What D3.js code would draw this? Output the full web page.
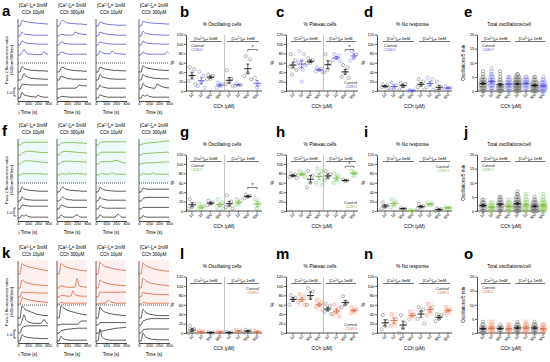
<!DOCTYPE html>
<html><head><meta charset="utf-8">
<script src="https://cdn.jsdelivr.net/npm/d3@7"></script>
<style>
body{margin:0;background:#fff}
svg{font-family:"Liberation Sans",Arial,sans-serif}
</style></head><body>
<svg id="fig" width="550" height="362"></svg>
<script>
// ---- data ----
const traceTime = [0,20,40,60,80,100,120,140,160,180,200,220,240,260,280,300];
const caLevels = ["0mM","0mM","1mM","1mM"];
const cchLevels = ["10μM","300μM","10μM","300μM"];
const cchGroups = ["10","10","300","300","10","10","300","300"];

// each column: 4 knockout traces then 4 control traces (ratio above baseline)
const tracesA = [
 [[0,0,.7,.6,.55,.5,.45,.42,.4,.37,.35,.32,.3,.28,.26,.25],[0,0,.5,.3,.2,.2,.15,.15,.1,.1,.1,.1,.1,.1,.1,.1],[0,0,.5,.35,.25,.2,.2,.15,.15,.15,.1,.1,.1,.1,.1,.1],[0,0,.3,.7,.3,.15,.1,.1,.05,.05,.05,.05,.1,.4,.15,.1],
  [0,0,.7,.45,.35,.3,.25,.2,.2,.2,.15,.15,.15,.15,.1,.1],[0,0,.2,.8,.5,.35,.25,.2,.2,.15,.15,.15,.1,.1,.1,.1],[0,0,.6,.6,.55,.55,.5,.5,.5,.5,.5,.5,.5,.5,.5,.5],[0,0,.7,.4,.3,.25,.2,.15,.15,.1,.35,.2,.15,.1,.1,.1]],
 [[0,0,.5,.7,.5,.4,.35,.3,.3,.3,.25,.25,.25,.2,.2,.2],[0,0,.2,.2,.15,.1,.1,.1,.1,.5,.4,.3,.25,.2,.2,.2],[0,0,.4,.3,.2,.15,.15,.1,.1,.1,.1,.1,.1,.1,.1,.1],[0,0,.4,.3,.2,.15,.1,.1,.1,.1,.1,.1,.1,.1,.1,.1],
  [0,0,.5,.6,.45,.35,.3,.25,.2,.2,.15,.15,.15,.1,.1,.1],[0,0,.5,.4,.3,.2,.15,.15,.1,.1,.1,.1,.1,.1,.1,.1],[0,0,.1,.1,.1,.1,.1,.1,.1,.1,.2,.5,.45,.4,.4,.4],[0,0,.2,.2,.15,.15,.1,.1,.1,.1,.1,.1,.1,.1,.1,.1]],
 [[0,0,.5,.4,.3,.25,.2,.2,.15,.15,.1,.1,.1,.1,.1,.1],[0,0,.5,.4,.3,.25,.2,.2,.15,.15,.1,.1,.1,.1,.1,.1],[0,0,.4,.3,.25,.2,.15,.15,.1,.1,.1,.1,.1,.1,.1,.1],[0,0,.5,.3,.2,.15,.15,.15,.5,.3,.2,.15,.15,.1,.1,.1],
  [0,0,.6,.5,.4,.35,.3,.25,.25,.2,.2,.2,.15,.15,.15,.15],[0,0,.7,.4,.3,.25,.2,.15,.15,.1,.1,.1,.1,.1,.1,.1],[0,0,.5,.3,.2,.15,.1,.1,.1,.1,.1,.1,.1,.1,.1,.1],[0,0,.4,.3,.2,.15,.1,.1,.1,.1,.1,.1,.1,.1,.1,.1]],
 [[0,0,.6,.5,.45,.4,.4,.35,.35,.3,.3,.3,.3,.25,.25,.25],[0,0,.6,.4,.3,.25,.2,.2,.15,.15,.15,.15,.1,.1,.1,.1],[0,0,.5,.35,.25,.2,.2,.15,.15,.15,.15,.1,.1,.1,.1,.1],[0,0,.4,.2,.15,.1,.1,.1,.1,.1,.1,.1,.1,.1,.4,.2],
  [0,0,.8,.6,.5,.45,.4,.35,.3,.3,.25,.25,.2,.2,.2,.2],[0,0,.7,.5,.4,.35,.3,.25,.2,.2,.2,.15,.15,.15,.15,.15],[0,0,.7,.4,.3,.2,.15,.1,.1,.6,.5,.35,.25,.2,.15,.15],[0,0,.4,.2,.4,.2,.15,.1,.1,.1,.1,.1,.1,.1,.1,.1]]
];
const tracesF = [
 [[0,0,.2,.3,.35,.35,.35,.35,.35,.35,.35,.35,.35,.35,.35,.35],[0,0,.2,.35,.45,.5,.45,.45,.4,.4,.35,.35,.3,.3,.3,.3],[0,0,.2,.35,.4,.4,.4,.35,.35,.3,.3,.25,.25,.2,.2,.2],[0,0,.1,.25,.1,.2,.1,.25,.1,.2,.1,.2,.1,.1,.1,.1],
  [0,0,.6,.4,.3,.25,.2,.2,.15,.15,.1,.1,.1,.1,.1,.1],[0,0,.5,.3,.2,.15,.15,.1,.1,.1,.1,.1,.1,.1,.1,.1],[0,0,.5,.45,.4,.4,.35,.35,.35,.35,.35,.35,.35,.35,.35,.35],[0,0,.4,.2,.4,.2,.15,.1,.1,.1,.1,.1,.1,.1,.1,.1]],
 [[0,0,.2,.3,.3,.3,.3,.3,.3,.3,.3,.25,.25,.25,.2,.2],[0,0,.3,.4,.45,.45,.45,.4,.4,.35,.35,.3,.3,.3,.25,.25],[0,0,.2,.3,.35,.35,.35,.35,.3,.3,.3,.3,.3,.25,.25,.25],[0,0,.1,.2,.1,.1,.25,.1,.2,.1,.25,.1,.2,.1,.1,.1],
  [0,0,.4,.6,.4,.3,.25,.2,.2,.15,.15,.15,.1,.1,.1,.1],[0,0,.3,.5,.3,.2,.15,.15,.1,.1,.1,.1,.1,.1,.1,.1],[0,0,.5,.4,.3,.25,.2,.2,.2,.2,.2,.2,.2,.2,.2,.2],[0,0,.4,.2,.1,.1,.1,.1,.1,.3,.4,.2,.1,.1,.1,.1]],
 [[0,0,.3,.35,.4,.4,.4,.4,.4,.4,.4,.4,.4,.4,.4,.4],[0,0,.3,.35,.35,.35,.35,.35,.35,.35,.35,.35,.35,.35,.35,.35],[0,0,.2,.3,.3,.3,.3,.3,.3,.4,.45,.4,.3,.2,.15,.1],[0,0,.1,.25,.1,.1,.1,.1,.3,.15,.1,.1,.1,.1,.1,.1],
  [0,0,.6,.4,.3,.2,.2,.15,.15,.1,.1,.1,.1,.1,.1,.1],[0,0,.5,.3,.2,.15,.1,.1,.1,.1,.1,.1,.1,.1,.1,.1],[0,0,.4,.2,.15,.1,.1,.1,.1,.1,.1,.1,.1,.1,.1,.1],[0,0,.4,.2,.1,.1,.1,.1,.1,.1,.2,.5,.3,.1,.1,.1]],
 [[0,0,.15,.2,.25,.25,.3,.3,.35,.35,.4,.4,.45,.5,.5,.5],[0,0,.15,.2,.2,.2,.25,.25,.25,.3,.3,.3,.3,.35,.35,.35],[0,0,.1,.1,.15,.15,.15,.15,.2,.2,.2,.2,.25,.25,.25,.25],[0,0,.3,.1,.1,.1,.1,.3,.1,.1,.1,.1,.1,.1,.1,.1],
  [0,0,.5,.4,.35,.35,.35,.35,.35,.35,.35,.35,.35,.35,.35,.35],[0,0,.3,.4,.45,.45,.45,.45,.45,.45,.45,.45,.45,.45,.45,.45],[0,0,.2,.2,.2,.2,.2,.2,.2,.2,.2,.2,.2,.2,.2,.2],[0,0,.3,.15,.1,.1,.1,.1,.1,.1,.1,.1,.1,.1,.1,.1]]
];
const tracesK = [
 [[0,0,1.3,1.1,1,.9,.85,.8,.75,.7,.65,.6,.55,.5,.45,.4],[0,0,1,.8,.7,.6,.55,.5,.45,.4,.4,.35,.35,.3,.3,.3],[0,0,.6,.6,.55,.55,.55,.55,.55,.5,.5,.5,.5,.5,.5,.5],[0,0,.8,.7,.6,.55,.5,.45,.4,.35,.3,.3,.25,.25,.2,.2],
  [0,0,1.5,1.2,1,.9,.8,.7,.6,.5,.45,.4,.35,.3,.3,.3],[0,0,.5,1.3,.6,.4,.3,.25,.2,.2,.2,.2,.3,.7,.3,.2],[0,0,.6,.8,.85,.9,.9,.9,.9,.9,.9,.9,.9,.9,.9,.9],[0,0,.8,.6,.5,.45,.4,.4,.35,.35,.35,.3,.3,.3,.3,.3]],
 [[0,0,1.3,1.1,.95,.85,.75,.7,.65,.6,.55,.5,.45,.45,.4,.4],[0,0,.3,.2,.15,.1,.1,.1,.1,.1,1.2,.3,.2,.15,.1,.1],[0,0,.2,.2,.15,.1,.1,.1,.8,.3,.2,.15,.1,.1,.1,.1],[0,0,.2,.15,.1,.1,.1,.1,.1,.1,.1,.1,.1,.1,.1,.1],
  [0,0,1.5,1.3,1.15,1,.9,.8,.75,.7,.6,.55,.5,.45,.4,.4],[0,0,.1,.1,.1,.1,.1,.1,.1,.1,.1,.2,.5,.5,.5,.5],[0,0,.3,.35,.4,.45,.5,.5,.55,.55,.6,.6,.6,.6,.6,.6],[0,0,.6,.3,.2,.15,.1,.1,.1,.1,.1,.1,.1,.1,.1,.1]],
 [[0,0,1.5,1.2,1,.9,.85,.8,.7,.65,.6,.55,.5,.5,.45,.45],[0,0,1,.8,.7,.6,.55,.5,.45,.4,.4,.35,.35,.3,.3,.3],[0,0,.6,.6,.6,.6,.6,.6,.6,.6,.6,.6,.6,.6,.6,.6],[0,0,.1,.1,.1,.1,.5,.3,.2,.15,.1,.1,.1,.1,.1,.1],
  [0,0,1.4,1,.8,.7,.6,.55,.5,.45,.4,.4,.35,.35,.3,.3],[0,0,.3,.3,.3,.3,.3,.3,.3,.3,.3,.3,.3,.3,.3,.3],[0,0,.2,.25,.3,.35,.4,.45,.5,.55,.6,.6,.65,.65,.7,.7],[0,0,1.5,.5,.3,.2,.15,.1,.1,.1,.1,.1,.1,.1,.1,.1]],
 [[0,0,1.4,1.1,.95,.85,.75,.7,.6,.55,.5,.45,.4,.4,.35,.35],[0,0,1.2,1,.8,.7,.6,.55,.5,.45,.4,.4,.35,.35,.3,.3],[0,0,.6,.5,.45,.4,.4,.35,.35,.3,.3,.3,.3,.3,.3,.3],[0,0,.2,.15,.1,.1,.1,.1,.1,.1,.1,.1,.1,.1,.1,.1],
  [0,0,1.1,.8,.6,.5,.45,.4,.35,.3,.3,.3,.3,.3,.3,.3],[0,0,.5,.6,.7,.75,.8,.8,.8,.8,.8,.8,.8,.8,.8,.8],[0,0,.4,.45,.5,.5,.5,.5,.5,.5,.5,.5,.5,.5,.5,.5],[0,0,1,.6,.4,.3,.25,.2,.2,.15,.15,.15,.15,.15,.15,.15]]
];

// % of cells per experiment; group order: 10 Ctl, 10 KO, 300 Ctl, 300 KO (0mM) then same (1mM)
const oscB     = [[51,46,32,21,14],[41,32,18,11,7],[35,32,26,25],[18,14,11,7],[44,26,19,14,11],[16,13,12,11],[74,67,39,32,25],[28,14,7]];
const plateauC = [[78,65,55,52,45,35],[85,78,65,60,55,50,45,20],[70,65,60,58],[50,47,45,42,40],[78,60,45,40],[78,75,70,66,63],[55,50,40,30,28],[85,78,70,65]];
const noRespD  = [[14,12,10,8,6],[18,12,5,3],[17,15,10,3],[2,1,0,0],[25,20,15,8,3],[28,25,15,8,3],[20,8,3,0],[10,7,5,3]];
const oscG     = [[25,15,8,5],[15,10,5,3],[22,18,15,12],[25,18,12,8,5],[33,20,12,8,5],[25,22,15,12],[35,32,30,27],[25,15,5]];
const plateauH = [[80,78,75,72,70],[85,80,78,75,72],[85,75,60,50],[90,85,75,60,55],[85,78,70,65],[80,75,65,60],[67,65,63],[85,80,75]];
const noRespI  = [[18,12,8,5],[25,18,12,8],[6,5,4],[2,1,0],[15,10,7,5],[18,15,13,12],[6,4,2,0],[8,7,6,5]];
const oscL     = [[15,8,3,0],[5,3,1,0],[2,1,0],[4,2,0],[2,1,0],[6,4,2],[7,5,3,1],[5,2,0]];
const plateauM = [[80,75,70,60],[82,78,70,65,60],[95,88,75,60],[70,65,60,55,50],[62,58,50,45,40],[60,52,45,40,35],[78,65,60,55],[55,50,45,42]];
const noRespN  = [[38,25,15,8],[40,30,20,15],[38,20,10,0],[45,40,35,30],[55,50,45,30,20],[62,55,45,38],[40,38,30,25],[55,50,45,42]];

// oscillations per cell: number of cells with 0,1,2,... oscillations
const totalE = [[3,5,6,5,4,2,1,1],[2,3,4,5,4,3,2,1,1],[4,6,5,3,2,1,1,1],[2,4,5,5,3,2],[5,8,10,8,6,4,2],[1,3,5,5,4,2],[5,8,7,5,3,2],[4,7,6,4,2,1]];
const totalJ = [[2,4,5,3,2],[3,5,4,2],[2,4,5,4,3,2],[3,5,5,3,1],[4,7,8,6,4,3,2,1],[3,5,4,3,2,1,1],[5,8,6,4,2,1],[4,7,6,4,2,1,1]];
const totalO = [[3,5,4,2,1],[2,4,4,2,1],[1,3,4,1],[2,4,3,2],[2,4,5,3,1],[2,4,4,3,1],[2,4,4,3,1],[2,4,3,2]];

const pctTicks = [0,20,40,60,80,100,120];
const oscTicks = [0,5,10,15,20];

// ---- layout ----
const svg = d3.select("#fig");
const traceCols = [18, 57, 96, 139];
const traceW = 30;
const panelX = [
  {axis:186, g1:192, step:9.3, end:262, letter:180},
  {axis:286, g1:293, step:8.7, end:358, letter:276},
  {axis:377, g1:385, step:9.0, end:452, letter:364},
  {axis:477, g1:483, step:8.6, end:545, letter:464}
];
const titles = ["% Oscillating cells","% Plateau cells","% No response","Total oscillations/cell"];

const rows = [
  {top:0,   letters:["a","b","c","d","e"], traces:tracesA, color:"#5757d6", light:"#8a8ae8", shade:null,
   base:[26,36,45,55,72,80,89,98],
   panels:[{d:oscB,leg:"tl",sig:88},{d:plateauC,leg:"br",sig:88},{d:noRespD,leg:"tl"},{d:totalE,hist:true,leg:"tl"}]},
  {top:120, letters:["f","g","h","i","j"], traces:tracesF, color:"#7cba45", light:"#9fd06b", shade:"#eef9fa",
   base:[25,35,44,55,72,81,89,98],
   panels:[{d:oscG,leg:"tl",sig:50},{d:plateauH,leg:"br",sig:95},{d:noRespI,leg:"tr"},{d:totalJ,hist:true,leg:"tl"}]},
  {top:242, letters:["k","l","m","n","o"], traces:tracesK, color:"#d46a45", light:"#eb9a7c", shade:"#fdf0ef",
   base:[32,46,55,62,76,83,91,99],
   panels:[{d:oscL,leg:"tr"},{d:plateauM,leg:"br"},{d:noRespN,leg:"tr"},{d:totalO,hist:true,leg:"tl"}]}
];

function caLabel(t, level) {
  t.append("tspan").text("[Ca");
  t.append("tspan").attr("font-size","70%").attr("dy",-1.3).text("2+");
  t.append("tspan").attr("dy",1.3).text("]");
  t.append("tspan").attr("font-size","70%").attr("dy",0.9).text("o");
  t.append("tspan").attr("dy",-0.9).text("= " + level);
}

function drawTraces(g, row) {
  g.append("text").attr("x",2).attr("y",16).attr("font-size",15).attr("font-weight","bold").text(row.letters[0]);
  const yl = g.append("text").attr("transform","translate(8,60) rotate(-90)").attr("text-anchor","middle").attr("font-size",4.3);
  yl.append("tspan").attr("x",0).text("Fura-2 fluorescence ratio");
  yl.append("tspan").attr("x",0).attr("dy",4.8).text("(340nm/380nm)");
  // scale bar 1.0
  const amp = d3.scaleLinear([0,1],[0,8]);
  g.append("path").attr("d",`M16,${88}H14V${88+amp(1)}H16`).attr("fill","none").attr("stroke","#222").attr("stroke-width",0.7);
  g.append("text").attr("x",12.5).attr("y",93.5).attr("text-anchor","end").attr("font-size",4.3).text("1.0");

  row.traces.forEach((col, ci) => {
    const x0 = traceCols[ci];
    const x = d3.scaleLinear([0,300],[x0, x0 + traceW]);
    const cx = x0 + traceW/2;
    const h = g.append("text").attr("x",cx).attr("y",7).attr("text-anchor","middle").attr("font-size",4.6);
    caLabel(h, caLevels[ci]);
    g.append("text").attr("x",cx).attr("y",14).attr("text-anchor","middle").attr("font-size",4.6).text("CCh " + cchLevels[ci]);
    if (row.shade) {
      g.append("rect").attr("x",x0).attr("y",18).attr("width",traceW).attr("height",45).attr("fill",row.shade);
    }
    col.forEach((tr, ti) => {
      const line = d3.line().x((v,i) => x(traceTime[i])).y(v => row.base[ti] - amp(v)).curve(d3.curveMonotoneX);
      g.append("path").attr("d",line(tr)).attr("fill","none")
        .attr("stroke", ti < 4 ? row.color : "#333").attr("stroke-width",0.8);
    });
    g.append("line").attr("x1",x0).attr("x2",x0+traceW).attr("y1",63).attr("y2",63)
      .attr("stroke","#333").attr("stroke-width",0.8).attr("stroke-dasharray","1,1");
    g.append("line").attr("x1",x0).attr("x2",x0).attr("y1",19).attr("y2",101).attr("stroke","#222").attr("stroke-width",0.7);
    const ax = g.append("g").attr("transform","translate(0,101)")
      .call(d3.axisBottom(x).tickValues([0,100,200,300]).tickSize(1.5).tickSizeOuter(0));
    ax.select(".domain").attr("stroke-width",0.7);
    ax.selectAll("line").attr("stroke-width",0.6);
    ax.selectAll("text").attr("font-size",4.3).attr("dy","0.5em").attr("y",2).attr("font-family",null);
    g.append("text").attr("x", ci === 0 ? x0 + 11 : cx).attr("y",114).attr("text-anchor","middle").attr("font-size",4.6).text("Time (s)");
  });
  g.append("text").attr("x",traceCols[0]+1).attr("y",115).attr("text-anchor","middle").attr("font-size",6).text("↑");
}

const pointOffsets = [-2.2, 2.2, 0, -3.4, 3.4, -1.1, 1.1, 0];

function drawPanel(g, pc, pd, row, pi) {
  const yZero = 91, yTop = 34.5;
  const yMax = pd.hist ? 20 : 120;
  const y = d3.scaleLinear([0, yMax], [yZero, yTop]);
  const gx = i => pc.g1 + i * pc.step;

  g.append("text").attr("x",pc.letter).attr("y",17).attr("font-size",15).attr("font-weight","bold").text(row.letters[pi+1]);
  g.append("text").attr("x",(pc.axis+pc.end)/2 - 2).attr("y",26).attr("text-anchor","middle").attr("font-size",4.8).text(titles[pi]);

  // groups -> values
  const groups = pd.d.map(arr => {
    let vals = [];
    if (pd.hist) arr.forEach((n, v) => { for (let k = 0; k < n; k++) vals.push(v); });
    else vals = arr.slice();
    return vals;
  });

  // shading behind knockout groups
  if (row.shade) {
    groups.forEach((vals, gi) => {
      if (gi % 2 === 0) return;
      const lo = Math.max(0, d3.min(vals) - yMax*0.04), hi = d3.max(vals) + yMax*0.04;
      g.append("rect").attr("x",gx(gi)-4).attr("width",8).attr("y",y(hi)).attr("height",y(lo)-y(hi)).attr("fill",row.shade);
    });
  }

  // axes
  const ya = g.append("g").attr("transform",`translate(${pc.axis},0)`)
    .call(d3.axisLeft(y).tickValues(pd.hist ? oscTicks : pctTicks).tickSize(2).tickSizeOuter(0));
  ya.select(".domain").attr("stroke-width",0.7);
  ya.selectAll("line").attr("stroke-width",0.6);
  ya.selectAll("text").attr("font-size",4.2).attr("x",-2.6).attr("font-family",null);
  const ylab = pd.hist ? "Oscillations/5 min" : "%";
  g.append("text").attr("transform",`translate(${pc.axis-12},${(yZero+yTop)/2}) rotate(-90)`)
    .attr("text-anchor","middle").attr("font-size",4.6).text(ylab);

  g.append("line").attr("x1",pc.axis).attr("x2",pc.end).attr("y1",yZero).attr("y2",yZero).attr("stroke","#000").attr("stroke-width",0.7);
  cchGroups.forEach((c, i) => {
    g.append("line").attr("x1",gx(i)).attr("x2",gx(i)).attr("y1",yZero).attr("y2",yZero+1.5).attr("stroke","#000").attr("stroke-width",0.6);
    g.append("text").attr("transform",`translate(${gx(i)+1},${yZero+3}) rotate(-45)`)
      .attr("text-anchor","end").attr("dominant-baseline","middle").attr("font-size",4).text(c);
  });
  g.append("text").attr("x",(pc.axis+pc.end)/2).attr("y",107.5).attr("text-anchor","middle").attr("font-size",4.8).text("CCh (μM)");

  // separator between calcium conditions (oscillating / plateau panels)
  if (pi < 2) {
    const sx = (gx(3)+gx(4))/2;
    g.append("line").attr("x1",sx).attr("x2",sx).attr("y1",35).attr("y2",yZero).attr("stroke","#999").attr("stroke-width",0.6);
  }

  // calcium headers
  ["0mM","1mM"].forEach((lv, k) => {
    const xa = gx(k*4) - 2, xb = gx(k*4+3) + 2;
    g.append("line").attr("x1",xa).attr("x2",xb).attr("y1",41.5).attr("y2",41.5).attr("stroke","#333").attr("stroke-width",0.7);
    const t = g.append("text").attr("x",(xa+xb)/2).attr("y",40).attr("text-anchor","middle").attr("font-size",3.8);
    caLabel(t, lv);
  });

  // points
  groups.forEach((vals, gi) => {
    const ko = gi % 2 === 1;
    const stroke = ko ? row.light : "#777";
    let pts;
    if (pd.hist) {
      pts = [];
      const byVal = d3.group(vals, v => v);
      byVal.forEach((list, v) => {
        const n = list.length, sp = Math.min(1.2, 6 / n);
        list.forEach((_, k) => pts.push([gx(gi) + (k - (n-1)/2) * sp, y(v)]));
      });
    } else {
      pts = vals.map((v, k) => [gx(gi) + pointOffsets[k % pointOffsets.length], y(v)]);
    }
    g.append("g").selectAll("circle").data(pts).join("circle")
      .attr("cx", d => d[0]).attr("cy", d => d[1]).attr("r", 1.6)
      .attr("fill","none").attr("stroke",stroke).attr("stroke-width",0.55);

    const m = d3.mean(vals), sem = d3.deviation(vals) / Math.sqrt(vals.length);
    const col = ko ? row.color : "#111";
    const cx = gx(gi);
    g.append("line").attr("x1",cx-3.5).attr("x2",cx+3.5).attr("y1",y(m)).attr("y2",y(m)).attr("stroke",col).attr("stroke-width",0.9);
    g.append("line").attr("x1",cx).attr("x2",cx).attr("y1",y(m+sem)).attr("y2",y(Math.max(0,m-sem))).attr("stroke",col).attr("stroke-width",0.7);
    [m+sem, Math.max(0,m-sem)].forEach(v => {
      g.append("line").attr("x1",cx-1.6).attr("x2",cx+1.6).attr("y1",y(v)).attr("y2",y(v)).attr("stroke",col).attr("stroke-width",0.7);
    });
  });

  // significance
  if (pd.sig) {
    const yb = y(pd.sig), xa = gx(6), xb = gx(7);
    g.append("path").attr("d",`M${xa},${yb+1.8}V${yb}H${xb}V${yb+1.8}`).attr("fill","none").attr("stroke","#222").attr("stroke-width",0.6);
    g.append("text").attr("x",(xa+xb)/2).attr("y",yb-0.3).attr("text-anchor","middle").attr("font-size",5).text("*");
  }

  // legend
  let lx, ly, anchor = "start";
  if (pd.leg === "tl") { lx = gx(0) - 1; ly = 47; }
  else if (pd.leg === "tr") { lx = pc.end - 3; ly = 48; anchor = "end"; }
  else { lx = pc.end - 1; ly = 84; anchor = "end"; }
  g.append("text").attr("x",lx).attr("y",ly).attr("text-anchor",anchor).attr("font-size",4).attr("fill","#222").text("Control");
  g.append("text").attr("x",lx).attr("y",ly+4.4).attr("text-anchor",anchor).attr("font-size",4).attr("fill",row.color).text("CDKO");
}

rows.forEach(row => {
  const g = svg.append("g").attr("transform",`translate(0,${row.top})`);
  drawTraces(g, row);
  row.panels.forEach((pd, pi) => drawPanel(g, panelX[pi], pd, row, pi));
});
</script>
</body></html>
